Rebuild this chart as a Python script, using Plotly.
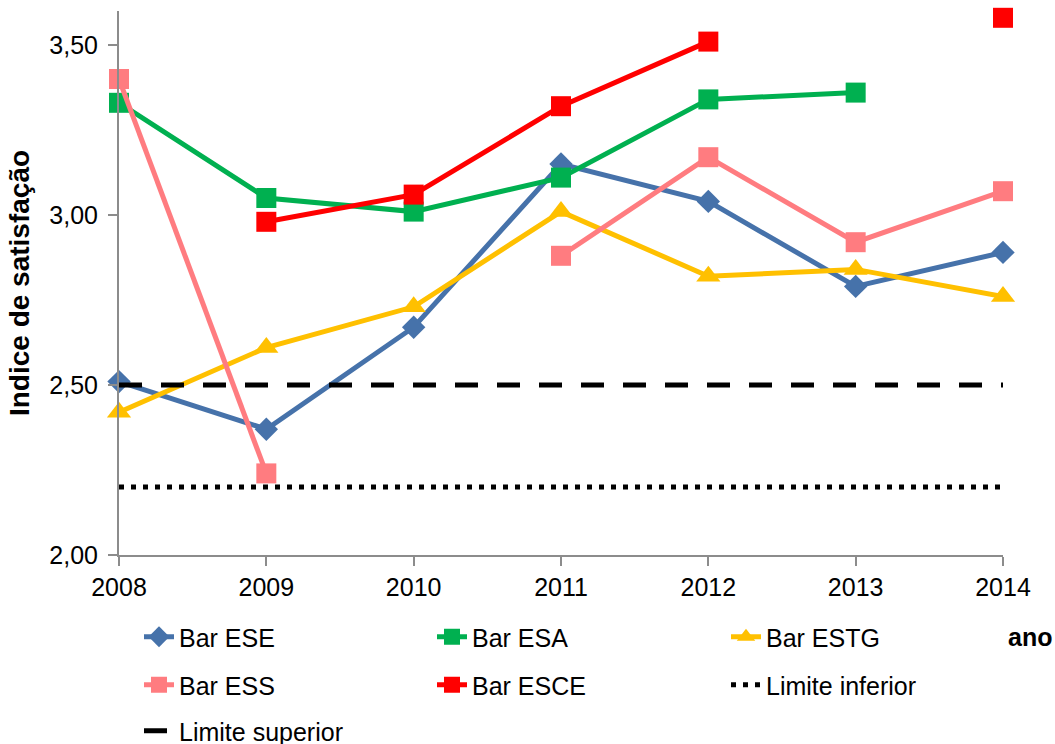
import plotly.graph_objects as go

years = [2008, 2009, 2010, 2011, 2012, 2013, 2014]
bar_ese = [2.51, 2.37, 2.67, 3.15, 3.04, 2.79, 2.89]
bar_esa = [3.33, 3.05, 3.01, 3.11, 3.34, 3.36, None]
bar_estg = [2.42, 2.61, 2.73, 3.01, 2.82, 2.84, 2.76]
bar_ess = [3.40, 2.24, None, 2.88, 3.17, 2.92, 3.07]
bar_esce = [None, 2.98, 3.06, 3.32, 3.51, None, 3.58]
limite_inferior = [2.20] * 7
limite_superior = [2.50] * 7

ytick_vals = [2.0, 2.5, 3.0, 3.5]

FONT = "Liberation Sans, Arial, sans-serif"
FS = 25

fig = go.Figure()

series = [
    ("Bar ESE", bar_ese, "#4672AA", "diamond", 18, "legend"),
    ("Bar ESA", bar_esa, "#00B050", "square", 20, "legend2"),
    ("Bar ESTG", bar_estg, "#FFC000", "triangle-up", 21, "legend3"),
    ("Bar ESS", bar_ess, "#FF7C80", "square", 20, "legend4"),
    ("Bar ESCE", bar_esce, "#FF0000", "square", 20, "legend5"),
]
for name, vals, col, sym, size, lg in series:
    fig.add_trace(go.Scatter(
        x=years, y=vals, name=name, mode="lines+markers",
        line=dict(color=col, width=5),
        marker=dict(symbol=sym, size=size, color=col),
        connectgaps=False, cliponaxis=False, legend=lg,
    ))

fig.add_trace(go.Scatter(
    x=years, y=limite_inferior, name="Limite inferior", mode="lines",
    line=dict(color="black", width=5, dash="5px,7px"), legend="legend6",
))
fig.add_trace(go.Scatter(
    x=years, y=limite_superior, name="Limite superior", mode="lines",
    line=dict(color="black", width=5, dash="23px,19px"), legend="legend7",
))

L, R, T, B = 119, 52, 11, 189
W, H = 1055, 744
pw, ph = W - L - R, H - T - B

leg_common = dict(orientation="h", xanchor="left", yanchor="middle",
                  xref="container", yref="container",
                  bgcolor="rgba(0,0,0,0)", font=dict(family=FONT, size=FS, color="black"))
text_x = [184, 477, 771]
rows = [637, 685, 731]
pos = [(0, 0), (1, 0), (2, 0), (0, 1), (1, 1), (2, 1), (0, 2)]
legends = {}
for i, (c, r) in enumerate(pos):
    key = "legend" if i == 0 else f"legend{i + 1}"
    legends[key] = dict(leg_common, x=(text_x[c] - 45) / W, y=1 - rows[r] / H)

fig.update_layout(
    width=W, height=H,
    margin=dict(l=L, r=R, t=T, b=B, pad=0, autoexpand=False),
    paper_bgcolor="white", plot_bgcolor="white",
    font=dict(family=FONT, size=FS, color="black"),
    separators=",.",
    showlegend=True,
    xaxis=dict(
        range=[2008, 2014], tickvals=years, ticktext=[str(y) for y in years],
        showgrid=False, zeroline=False, showline=True, linecolor="#8C8C8C", linewidth=2,
        ticks="outside", ticklen=9, tickwidth=2, tickcolor="#8C8C8C", automargin=False,
        tickfont=dict(family=FONT, size=FS, color="black"),
    ),
    yaxis=dict(
        range=[2.0, 3.6], tickvals=ytick_vals, tickformat=".2f",
        showgrid=False, zeroline=False, showline=True, linecolor="#8C8C8C", linewidth=2,
        ticks="outside", ticklen=9, tickwidth=2, tickcolor="#8C8C8C", automargin=False,
        ticklabelstandoff=5,
        tickfont=dict(family=FONT, size=FS, color="black"),
        title=dict(text="<b>Indice de satisfação</b>", font=dict(family=FONT, size=28, color="black"),
                   standoff=12),
    ),
    annotations=[dict(
        text="<b>ano</b>", xref="paper", yref="paper",
        x=(1006 - L) / pw, y=(H - B - 637) / ph,
        xanchor="left", yanchor="middle", showarrow=False,
        font=dict(family=FONT, size=FS, color="black"),
    )],
    **legends,
)

fig.write_html("out.html", config={"displayModeBar": False},
               post_script="document.body.style.margin='0';document.body.style.overflow='hidden';")
